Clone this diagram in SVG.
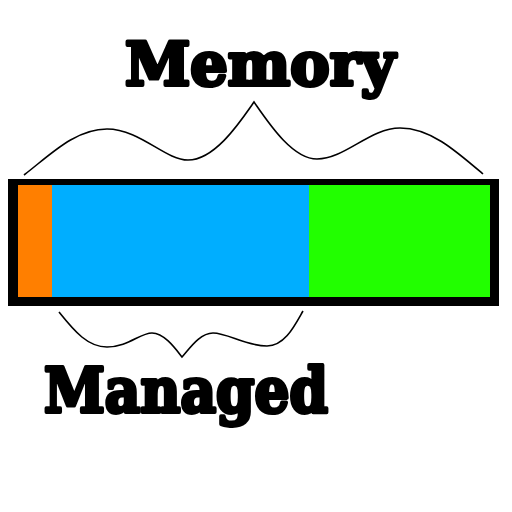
<svg xmlns="http://www.w3.org/2000/svg" width="512" height="512" viewBox="0 0 512 512">
<style>
.lbl{font-family:"DejaVu Serif","Liberation Serif",serif;font-weight:bold;fill:#000;stroke:#000;stroke-width:4;stroke-linejoin:round}
.brace{fill:none;stroke:#000;stroke-width:1.6}
</style>
<rect width="512" height="512" fill="#fff"/>
<g id="bar">
<rect x="8" y="179" width="491" height="127" fill="#000"/>
<rect x="18" y="185" width="34" height="112" fill="#ff7f00"/>
<rect x="52" y="185" width="257" height="112" fill="#00aeff"/>
<rect x="309" y="185" width="181" height="112" fill="#22ff00"/>
</g>
<g id="connectors">
<path class="brace" d="M24,175 C50,155 75,129 107,129 C140,129 165,160 188,160 C215,160 240,122 254,102 C268,122 292,159 317,159 C345,159 370,128 400,128 C430,128 455,150 483,174"/>
<path class="brace" d="M59,312 C75,332 88,347 107,347 C128,347 140,333 152,333 C164,333 175,348 182,357 C190,348 200,333 213,333 C228,333 245,346 267,346 C285,346 295,325 303,311"/>
</g>
<g id="memory"><text class="lbl" x="125" y="85" font-size="60" textLength="270" lengthAdjust="spacingAndGlyphs">Memory</text></g>
<g id="managed"><text class="lbl" x="44" y="412" font-size="62" textLength="284" lengthAdjust="spacingAndGlyphs">Managed</text></g>
</svg>
